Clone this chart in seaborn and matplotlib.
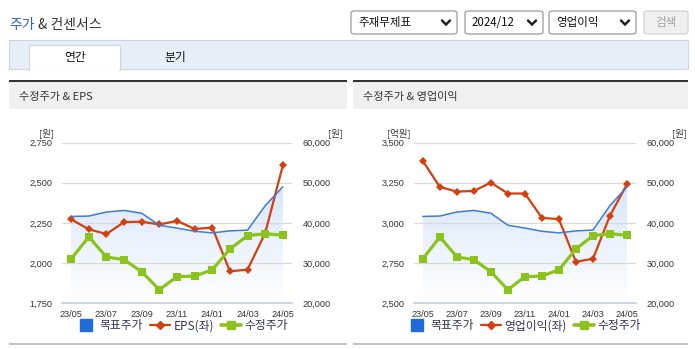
import numpy as np
import pandas as pd
import matplotlib
matplotlib.use("Agg")
import matplotlib.pyplot as plt
import seaborn as sns
from matplotlib.patches import Rectangle, FancyBboxPatch
from matplotlib.lines import Line2D

# ---- data -------------------------------------------------------------
months = ["23/05", "23/06", "23/07", "23/08", "23/09", "23/10", "23/11",
          "23/12", "24/01", "24/02", "24/03", "24/04", "24/05"]
eps = [2272, 2210, 2180, 2255, 2257, 2240, 2262, 2212, 2220, 1948, 1958, 2187, 2609]
op_income = [3386, 3224, 3195, 3199, 3251, 3183, 3183, 3031, 3023, 2757, 2776, 3045, 3241]
adj_price = [31000, 36500, 31500, 30800, 27800, 23300, 26600, 26700, 28300,
             33500, 36800, 37300, 36900]
target_price = [41600, 41700, 42700, 43100, 42400, 39400, 38700, 37900, 37500,
                38000, 38200, 44300, 49000]

eps_ticks = [1750, 2000, 2250, 2500, 2750]
op_ticks = [2500, 2750, 3000, 3250, 3500]
price_ticks = [20000, 30000, 40000, 50000, 60000]

# ---- style ------------------------------------------------------------
sns.set_style("white")
KR = ["Noto Sans CJK KR", "DejaVu Sans"]
NUM = ["Liberation Sans", "DejaVu Sans"]
plt.rcParams["font.family"] = KR

BLUE = "#3f7ad6"
BLUE_SQ = "#1f6bd8"
RED = "#d2400f"
GREEN = "#8cc21c"
TXT = "#333333"
AXIS = "#c3cedc"
GRID = "#d9d9d9"

W, H = 695, 349
fig = plt.figure(figsize=(W / 100, H / 100), dpi=100)
fig.patch.set_facecolor("white")


def fx(x):
    return x / W


def fy(y):
    return 1 - y / H


def box(x0, y0, x1, y1, **kw):
    fig.add_artist(Rectangle((fx(x0), fy(y1)), fx(x1) - fx(x0), fy(y0) - fy(y1),
                             transform=fig.transFigure, **kw))


def rbox(x0, y0, x1, y1, **kw):
    fig.add_artist(FancyBboxPatch((fx(x0), fy(y1)), fx(x1) - fx(x0), fy(y0) - fy(y1),
                                  boxstyle="round,pad=0,rounding_size=0.006",
                                  transform=fig.transFigure, **kw))


def chevron(cx, cy):
    fig.add_artist(Line2D([fx(cx - 4), fx(cx), fx(cx + 4)],
                          [fy(cy - 2), fy(cy + 2), fy(cy - 2)],
                          transform=fig.transFigure, color="#222222", lw=1.8,
                          solid_capstyle="round", solid_joinstyle="miter"))


# ---- page header ------------------------------------------------------
fig.text(fx(9), fy(25), "주가", color="#2f62c4", fontsize=10, va="center", ha="left",
         family=KR)
fig.text(fx(38), fy(25), "& 컨센서스", color=TXT, fontsize=10, va="center", ha="left",
         family=KR)

for (x0, x1, label) in [(351, 457, "주재무제표"), (465, 543, "2024/12"), (549, 636, "영업이익")]:
    rbox(x0, 11, x1, 34, facecolor="white", edgecolor="#8f8f8f", lw=0.8)
    fig.text(fx(x0 + 7), fy(22.5), label, fontsize=8.3, color="#111111",
             va="center", ha="left", family=KR)
    chevron(x1 - 11, 22.5)
rbox(644, 11, 688, 34, facecolor="#efefef", edgecolor="#d0d0d0", lw=0.8)
fig.text(fx(666), fy(22.5), "검색", fontsize=8.3, color="#a0a0a0", va="center",
         ha="center", family=KR)

# tab strip
box(9, 40, 688, 69, facecolor="#e8eef8", edgecolor="#cbd5e4", lw=0.8)
box(29, 45, 120, 70, facecolor="white", edgecolor="#cbd5e4", lw=0.8)
box(29.6, 68, 119.4, 71, facecolor="white", edgecolor="none")
fig.text(fx(75), fy(57), "연간", fontsize=8.5, color="#111111", va="center", ha="center",
         family=KR)
fig.text(fx(175), fy(57), "분기", fontsize=8.5, color="#111111", va="center", ha="center",
         family=KR)

# panel headers and bottom rules
for (x0, x1, title) in [(9, 347, "수정주가 & EPS"), (353, 688, "수정주가 & 영업이익")]:
    box(x0, 81, x1, 109, facecolor="#f0f0f0", edgecolor="none")
    box(x0, 79.5, x1, 81.5, facecolor="#333333", edgecolor="none")
    box(x0, 342.5, x1, 345, facecolor="#c4c4c4", edgecolor="none")
    fig.text(fx(x0 + 10), fy(97), title, fontsize=8, color=TXT, va="center",
             ha="left", family=KR)


# ---- charts -----------------------------------------------------------
def draw_chart(x0, x1, left_vals, left_ticks, left_unit, series_name, legend_cx):
    y0, y1 = 142.7, 303.0
    ax = fig.add_axes([fx(x0), fy(y1), fx(x1) - fx(x0), fy(y0) - fy(y1)])
    ax2 = ax.twinx()
    n = len(months)
    xs = np.arange(n)
    df = pd.DataFrame({"x": xs, "left": left_vals, "adj": adj_price,
                       "target": target_price})

    ax.set_xlim(-0.5, n - 0.5)
    ax2.set_xlim(-0.5, n - 0.5)
    ax.set_ylim(left_ticks[0], left_ticks[-1])
    ax2.set_ylim(price_ticks[0], price_ticks[-1])

    # soft fill under the target-price line (price scale), kept beneath every line
    lo = price_ticks[0]
    grad = np.linspace(1, 0, 256).reshape(-1, 1)
    cmap = matplotlib.colors.LinearSegmentedColormap.from_list(
        "fade", ["#ffffff", "#d8e6f8"])
    poly = ax2.fill_between(xs, lo, target_price, color="none", lw=0)
    img = ax.imshow(grad, extent=[0, n - 1, lo, max(target_price)], aspect="auto",
                    cmap=cmap, origin="upper", zorder=0.2, interpolation="bicubic",
                    transform=ax2.transData)
    img.set_clip_path(poly.get_paths()[0], transform=ax2.transData)
    ax.set_xlim(-0.5, n - 0.5)
    ax.set_ylim(left_ticks[0], left_ticks[-1])
    ax.set_axisbelow(True)
    ax.yaxis.grid(True, color=GRID, lw=0.9)

    # left axis: EPS / operating income
    sns.lineplot(data=df, x="x", y="left", ax=ax, color=RED, lw=1.6, marker="D",
                 markersize=4.2, markeredgewidth=0, zorder=3)
    ax.set_yticks(left_ticks)
    ax.set_yticklabels([f"{v:,}" for v in left_ticks])

    # right axis: prices
    sns.lineplot(data=df, x="x", y="target", ax=ax2, color=BLUE, lw=1.1, zorder=2)
    sns.lineplot(data=df, x="x", y="adj", ax=ax2, color=GREEN, lw=2.3, marker="s",
                 markersize=6.2, markeredgewidth=0, zorder=4)
    ax2.set_ylim(price_ticks[0], price_ticks[-1])
    ax2.set_yticks(price_ticks)
    ax2.set_yticklabels([f"{v:,}" for v in price_ticks])
    ax2.yaxis.grid(False)
    ax2.set_xlim(-0.5, n - 0.5)

    # x axis: labels every other month, small ticks between label pairs
    ax.set_xticks(xs[::2])
    ax.set_xticklabels(months[::2])
    ax.set_xticks(np.append(np.arange(0.5, n - 1, 2), [-0.5, n - 0.5]), minor=True)
    ax.tick_params(axis="x", which="major", length=0, pad=5, labelsize=6.6,
                   labelcolor=TXT)
    ax.tick_params(axis="x", which="minor", length=4.5, width=1, color=AXIS)
    for t in ax.get_xticklabels():
        t.set_family(NUM)
    ax.tick_params(axis="y", length=0, pad=7, labelsize=6.6, labelcolor=TXT)
    ax2.tick_params(axis="y", length=0, pad=8, labelsize=6.6, labelcolor=TXT)
    for t in ax.get_yticklabels() + ax2.get_yticklabels():
        t.set_family(NUM)
    for a in (ax, ax2):
        a.set_xlabel("")
        a.set_ylabel("")
        for s in ("top", "left", "right", "bottom"):
            a.spines[s].set_visible(False)
    ax.spines["bottom"].set_visible(True)
    ax.spines["bottom"].set_color(AXIS)
    ax.spines["bottom"].set_linewidth(1.2)
    ax.patch.set_visible(False)

    # units
    fig.text(fx(x0 - 16), fy(133), left_unit, fontsize=6.8, color=TXT, ha="center",
             va="center", family=KR)
    fig.text(fx(x1 + 44), fy(133), "[원]", fontsize=6.8, color=TXT, ha="center",
             va="center", family=KR)

    handles = [
        Line2D([], [], ls="none", marker="s", markersize=8.5, color=BLUE_SQ),
        Line2D([], [], color=RED, lw=1.6, marker="D", markersize=4.2),
        Line2D([], [], color=GREEN, lw=2.6, marker="s", markersize=6),
    ]
    fig.legend(handles, ["목표주가", series_name, "수정주가"], loc="center",
               bbox_to_anchor=(fx(legend_cx), fy(326)), ncol=3, frameon=False,
               handlelength=1.7, handletextpad=0.3, columnspacing=0.6,
               labelcolor="#333355", prop={"family": KR, "size": 8.5})
    return ax, ax2


draw_chart(62.3, 291.7, eps, eps_ticks, "[원]", "EPS(좌)", 182)
draw_chart(414.3, 635.5, op_income, op_ticks, "[억원]", "영업이익(좌)", 524)

fig.savefig("out.png", dpi=100, facecolor="white")
